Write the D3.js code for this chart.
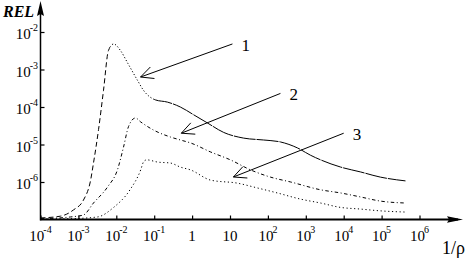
<!DOCTYPE html>
<html>
<head>
<meta charset="utf-8">
<script src="https://cdn.jsdelivr.net/npm/d3@7/dist/d3.min.js"></script>
<style>
  html, body { margin: 0; padding: 0; background: #fff; }
  svg { display: block; }
</style>
</head>
<body>
<svg id="chart" width="465" height="259" font-family="'Liberation Serif', 'Times New Roman', serif"></svg>
<script>
// ---------------- data ----------------
// x = 1/rho, y = REL
const curve1 = [
  [1e-4, 1.1e-7], [3.4e-4, 1.23e-7], [7.4e-4, 1.8e-7], [1.36e-3, 3.3e-7], [2.1e-3, 1.12e-6],
  [2.5e-3, 3.2e-6], [3.4e-3, 2.5e-5], [4.6e-3, 2.8e-4], [6.2e-3, 3.2e-3], [8.5e-3, 4.8e-3],
  [1.29e-2, 3.2e-3], [2.0e-2, 1.48e-3], [3.6e-2, 5.2e-4], [5.2e-2, 2.8e-4], [0.107, 1.55e-4],
  [0.224, 1.35e-4], [0.49, 1.0e-4], [1.1, 6.2e-5], [2.6, 3.7e-5], [6.8, 2.1e-5],
  [23, 1.48e-5], [76, 1.32e-5], [214, 1.17e-5], [603, 8.1e-6], [1320, 5.2e-6],
  [2450, 3.9e-6], [8300, 2.5e-6], [27500, 1.86e-6], [93000, 1.35e-6], [427000, 1.07e-6]
];
const curve2 = [
  [1e-4, 1.05e-7], [6.2e-4, 1.17e-7], [1.36e-3, 1.32e-7], [2.5e-3, 2.75e-7], [5.9e-3, 7.4e-7],
  [1.07e-2, 2.1e-6], [1.55e-2, 8.5e-6], [2.1e-2, 3.0e-5], [3.2e-2, 5.1e-5], [4.4e-2, 4.0e-5],
  [9.1e-2, 2.5e-5], [0.27, 1.58e-5], [0.49, 1.32e-5], [0.91, 1.1e-5], [3.1, 6.3e-6],
  [10.2, 3.9e-6], [35, 2.1e-6], [117, 1.35e-6], [400, 1.0e-6], [2450, 6.2e-7],
  [8300, 5.1e-7], [27500, 4.0e-7], [93000, 3.1e-7], [427000, 2.75e-7]
];
const curve3 = [
  [1e-4, 1.02e-7], [6.3e-4, 1.05e-7], [3.2e-3, 1.17e-7], [8.5e-3, 2.1e-7], [2.3e-2, 6.2e-7],
  [4.4e-2, 2.1e-6], [5.2e-2, 3.4e-6], [6.3e-2, 3.9e-6], [0.123, 3.4e-6], [0.27, 3.2e-6],
  [0.49, 2.5e-6], [0.91, 2.1e-6], [3.1, 1.12e-6], [15.8, 9.3e-7], [54, 6.9e-7],
  [178, 5.1e-7], [724, 3.5e-7], [2450, 2.75e-7], [8300, 2.1e-7], [27500, 1.9e-7],
  [93000, 1.7e-7], [427000, 1.58e-7]
];
// x-ranges where curve 1 changes its line style
const curve1Breaks = [7e-3, 0.1];

const xTickValues = [1e-4, 1e-3, 1e-2, 1e-1, 1, 10, 1e2, 1e3, 1e4, 1e5, 1e6];
const xTickBase   = ["10", "10", "10", "10", "1", "10", "10", "10", "10", "10", "10"];
const xTickExp    = ["-4", "-3", "-2", "-1", "", "", "2", "3", "4", "5", "6"];
const yTickValues = [1e-2, 1e-3, 1e-4, 1e-5, 1e-6];
const yTickBase   = ["10", "10", "10", "10", "10"];
const yTickExp    = ["-2", "-3", "-4", "-5", "-6"];

// annotations: label, arrow tail [x, y], arrow tip [x, y] (data units)
const annotLabels = ["1", "2", "3"];
const annotTail = [[11.6, 4.8e-3], [214, 2.3e-4], [1.0e4, 2.0e-5]];
const annotTip  = [[0.0436, 6.3e-4], [0.52, 2.0e-5], [12.3, 1.36e-6]];

const axisTitleY = "REL";
const axisTitleX = "1/ρ";

// ---------------- chart ----------------
const svg = d3.select("#chart");
const x = d3.scaleLog().domain([1e-4, 1e6]).range([40.5, 419.5]);
const y = d3.scaleLog().domain([1e-7, 1e-2]).range([219.5, 32]);
const x0 = x.range()[0], y0 = y.range()[0];

// axes (tick marks only, labels drawn by hand for superscripts)
const gx = svg.append("g").attr("transform", `translate(0,${y0})`)
  .call(d3.axisBottom(x).tickValues(xTickValues).tickSize(-4).tickFormat(""));
gx.select(".domain").remove();
gx.selectAll(".tick line").attr("stroke", "#000").attr("stroke-width", 1.2);

const gy = svg.append("g").attr("transform", `translate(${x0},0)`)
  .call(d3.axisLeft(y).tickValues(yTickValues).tickSize(-4).tickFormat(""));
gy.select(".domain").remove();
gy.selectAll(".tick line").attr("stroke", "#000").attr("stroke-width", 1.2);

// axis lines with arrows
svg.append("line").attr("x1", x0).attr("x2", 458).attr("y1", y0).attr("y2", y0)
  .attr("stroke", "#000").attr("stroke-width", 2);
svg.append("line").attr("x1", x0).attr("x2", x0).attr("y1", y0 + 1).attr("y2", 8)
  .attr("stroke", "#000").attr("stroke-width", 1.5);
svg.append("path").attr("d", `M${x0},1 L${x0 + 3.5},16 L${x0},14 L${x0 - 3.5},16 Z`).attr("fill", "#000");
svg.append("path").attr("d", `M463,${y0} L447,${y0 - 3.2} L449,${y0} L447,${y0 + 3.2} Z`).attr("fill", "#000");

// tick labels
const xl = svg.append("g").selectAll("text").data(xTickValues).join("text")
  .attr("x", d => x(d)).attr("y", 241).attr("text-anchor", "middle")
  .attr("font-size", 15).attr("fill", "#000");
xl.append("tspan").text((d, i) => xTickBase[i]);
xl.append("tspan").attr("font-size", 10).attr("dy", -8).attr("dx", -1)
  .text((d, i) => xTickExp[i]);

const yl = svg.append("g").selectAll("text").data(yTickValues).join("text")
  .attr("x", 38).attr("y", d => y(d) + 7).attr("text-anchor", "end")
  .attr("font-size", 15).attr("fill", "#000");
yl.append("tspan").text((d, i) => yTickBase[i]);
yl.append("tspan").attr("font-size", 10).attr("dy", -8).attr("dx", -1)
  .text((d, i) => yTickExp[i]);

// axis titles
svg.append("text").attr("x", 3).attr("y", 17).attr("font-size", 16)
  .attr("font-style", "italic").attr("font-weight", "bold").text(axisTitleY);
svg.append("text").attr("x", 442).attr("y", 254).attr("font-size", 18).text(axisTitleX);

// curves
const line = d3.line().x(d => x(d[0])).y(d => y(d[1])).curve(d3.curveMonotoneX);
const defs = svg.append("defs");
const c1Ranges = [[1e-4, curve1Breaks[0], "5,3"], [curve1Breaks[0], curve1Breaks[1], "1.2,2"], [curve1Breaks[1], 1e6, "22,1"]];
c1Ranges.forEach((r, i) => {
  defs.append("clipPath").attr("id", "c1clip" + i).append("rect")
    .attr("x", x(r[0]) - (i === 0 ? 2 : 0)).attr("y", 0)
    .attr("width", x(r[1]) - x(r[0]) + (i === 0 ? 2 : 0)).attr("height", 259);
  svg.append("path").datum(curve1).attr("d", line)
    .attr("clip-path", `url(#c1clip${i})`)
    .attr("fill", "none").attr("stroke", "#000").attr("stroke-width", 1)
    .attr("stroke-dasharray", r[2]);
});
svg.append("path").datum(curve2).attr("d", line)
  .attr("fill", "none").attr("stroke", "#000").attr("stroke-width", 1)
  .attr("stroke-dasharray", "3.5,2.5,1,2.5");
svg.append("path").datum(curve3).attr("d", line)
  .attr("fill", "none").attr("stroke", "#000").attr("stroke-width", 1)
  .attr("stroke-dasharray", "1.2,2.6");

// annotation arrows
annotLabels.forEach((lab, i) => {
  const tx = x(annotTail[i][0]), ty = y(annotTail[i][1]);
  const px = x(annotTip[i][0]), py = y(annotTip[i][1]);
  const ang = Math.atan2(ty - py, tx - px);
  const L = 14, a = 0.45;
  const b1 = [px + L * Math.cos(ang - a), py + L * Math.sin(ang - a)];
  const b2 = [px + L * Math.cos(ang + a), py + L * Math.sin(ang + a)];
  svg.append("path")
    .attr("d", `M${tx},${ty} L${px},${py} M${b1[0]},${b1[1]} L${px},${py} L${b2[0]},${b2[1]}`)
    .attr("fill", "none").attr("stroke", "#000").attr("stroke-width", 1);
  svg.append("text").attr("x", tx + 9).attr("y", ty + 7).attr("font-size", 17).text(lab);
});
</script>
</body>
</html>
